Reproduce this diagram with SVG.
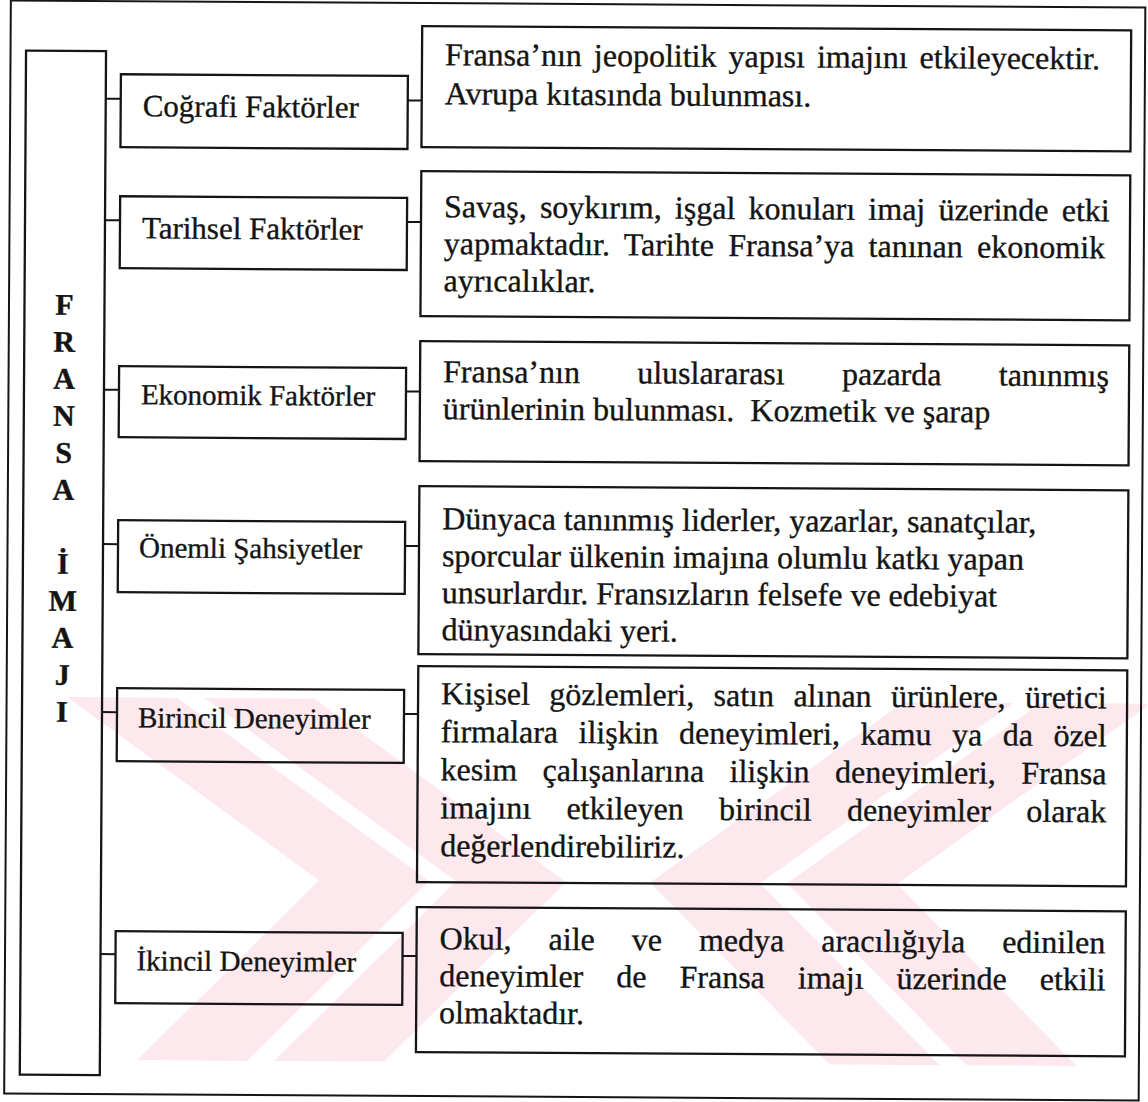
<svg xmlns="http://www.w3.org/2000/svg" width="1148" height="1102" viewBox="0 0 1148 1102">
<style>
.frame{fill:none;stroke:#151515;stroke-width:2}
.box{fill:none;stroke:#151515;stroke-width:2.3}
.conn line{stroke:#151515;stroke-width:2}
text{font-family:"Liberation Serif","Times New Roman",serif;fill:#141414;stroke:#141414;stroke-width:0.35}
.lbl{font-size:29px}
.lbl31{font-size:31px}
.txt{font-size:32px}
.big{font-size:30px;font-weight:bold;text-anchor:middle}
.wm{fill:#fde9ed}
</style>
<defs>
<clipPath id="wmclip"><rect x="0" y="700" width="1148" height="363"/></clipPath>
</defs>
<rect width="1148" height="1102" fill="#ffffff"/>
<g transform="rotate(0.35 574 551)">
<g id="watermark" clip-path="url(#wmclip)">
<polygon class="wm" points="68,700 321,882 140,1063 250,1063 431,882 178,700"/>
<polygon class="wm" points="205,700 458,882 277,1063 387,1063 568,882 315,700"/>
<polygon class="wm" points="1152,700 899,882 1080,1063 970,1063 789,882 1042,700"/>
<polygon class="wm" points="1015,700 762,882 943,1063 833,1063 652,882 905,700"/>
</g>
<rect id="frame" class="frame" x="7.5" y="4" width="1134.5" height="1093"/>
<g id="fransa-imaji">
<rect class="box" x="23" y="54" width="80" height="1024"/>
<text class="big" x="63" y="318">F</text>
<text class="big" x="63" y="355">R</text>
<text class="big" x="63" y="392">A</text>
<text class="big" x="63" y="429">N</text>
<text class="big" x="63" y="466">S</text>
<text class="big" x="63" y="503">A</text>
<text class="big" x="63" y="577">İ</text>
<text class="big" x="63" y="614">M</text>
<text class="big" x="63" y="651">A</text>
<text class="big" x="63" y="688">J</text>
<text class="big" x="63" y="725">I</text>
</g>
<g id="connectors" class="conn">
<line x1="103" y1="101.5" x2="118" y2="101.5"/>
<line x1="405" y1="101.5" x2="419" y2="101.5"/>
<line x1="103" y1="223" x2="118" y2="223"/>
<line x1="405" y1="223" x2="419" y2="223"/>
<line x1="103" y1="392.5" x2="118" y2="392.5"/>
<line x1="405" y1="392.5" x2="419" y2="392.5"/>
<line x1="103" y1="547" x2="118" y2="547"/>
<line x1="405" y1="547" x2="419" y2="547"/>
<line x1="103" y1="715" x2="118" y2="715"/>
<line x1="405" y1="715" x2="419" y2="715"/>
<line x1="103" y1="957" x2="118" y2="957"/>
<line x1="405" y1="957" x2="419" y2="957"/>
</g>
<g id="cografi-faktorler">
<rect class="box" x="118" y="77" width="287" height="73"/>
<text class="lbl31" x="140" y="119">Coğrafi Faktörler</text>
</g>
<g id="tarihsel-faktorler">
<rect class="box" x="118" y="199" width="287" height="72"/>
<text class="lbl31" x="140" y="241">Tarihsel Faktörler</text>
</g>
<g id="ekonomik-faktorler">
<rect class="box" x="118" y="369" width="287" height="71"/>
<text class="lbl" x="140" y="407">Ekonomik Faktörler</text>
</g>
<g id="onemli-sahsiyetler">
<rect class="box" x="118" y="523" width="287" height="72"/>
<text class="lbl" x="139" y="560">Önemli Şahsiyetler</text>
</g>
<g id="birincil-deneyimler">
<rect class="box" x="118" y="691" width="287" height="73"/>
<text class="lbl" x="139" y="730">Birincil Deneyimler</text>
</g>
<g id="ikincil-deneyimler">
<rect class="box" x="118" y="934" width="287" height="72"/>
<text class="lbl" x="139" y="973">İkincil Deneyimler</text>
</g>
<g id="cografi-aciklama">
<rect class="box" x="419" y="27" width="709" height="121"/>
<text class="txt" x="442" y="66" word-spacing="4">Fransa’nın jeopolitik yapısı imajını etkileyecektir.</text>
<text class="txt" x="442" y="105">Avrupa kıtasında bulunması.</text>
</g>
<g id="tarihsel-aciklama">
<rect class="box" x="419" y="172" width="709" height="145"/>
<text class="txt" x="442" y="218" word-spacing="5.2">Savaş, soykırım, işgal konuları imaj üzerinde etki</text>
<text class="txt" x="442" y="255" word-spacing="6.3">yapmaktadır. Tarihte Fransa’ya tanınan ekonomik</text>
<text class="txt" x="442" y="292">ayrıcalıklar.</text>
</g>
<g id="ekonomik-aciklama">
<rect class="box" x="419" y="342" width="709" height="120"/>
<text class="txt" x="442" y="383" word-spacing="49.3">Fransa’nın uluslararası pazarda tanınmış</text>
<text class="txt" x="442" y="420" xml:space="preserve">ürünlerinin bulunması.  Kozmetik ve şarap</text>
</g>
<g id="sahsiyetler-aciklama">
<rect class="box" x="419" y="487" width="709" height="168"/>
<text class="txt" x="442" y="530">Dünyaca tanınmış liderler, yazarlar, sanatçılar,</text>
<text class="txt" x="442" y="567">sporcular ülkenin imajına olumlu katkı yapan</text>
<text class="txt" x="442" y="604">unsurlardır. Fransızların felsefe ve edebiyat</text>
<text class="txt" x="442" y="641">dünyasındaki yeri.</text>
</g>
<g id="birincil-aciklama">
<rect class="box" x="419" y="667" width="709" height="216"/>
<text class="txt" x="442" y="705" word-spacing="11.4">Kişisel gözlemleri, satın alınan ürünlere, üretici</text>
<text class="txt" x="442" y="743" word-spacing="12.5">firmalara ilişkin deneyimleri, kamu ya da özel</text>
<text class="txt" x="442" y="781" word-spacing="17.4">kesim çalışanlarına ilişkin deneyimleri, Fransa</text>
<text class="txt" x="442" y="819" word-spacing="27.4">imajını etkileyen birincil deneyimler olarak</text>
<text class="txt" x="442" y="857">değerlendirebiliriz.</text>
</g>
<g id="ikincil-aciklama">
<rect class="box" x="419" y="908" width="709" height="145"/>
<text class="txt" x="442" y="950" word-spacing="29">Okul, aile ve medya aracılığıyla edinilen</text>
<text class="txt" x="442" y="987" word-spacing="25">deneyimler de Fransa imajı üzerinde etkili</text>
<text class="txt" x="442" y="1024">olmaktadır.</text>
</g>
</g>
</svg>
